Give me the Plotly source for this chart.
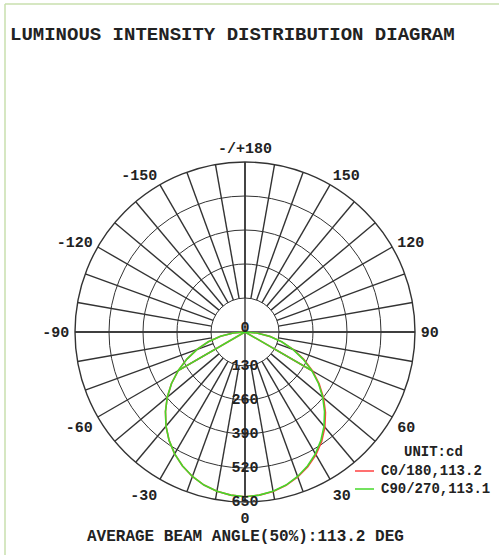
import plotly.graph_objects as go

# ---- data -------------------------------------------------------------
TITLE = "LUMINOUS INTENSITY DISTRIBUTION DIAGRAM"
FOOTER = "AVERAGE BEAM ANGLE(50%):113.2 DEG"
UNIT_LABEL = "UNIT:cd"

SERIES_NAMES = ["C0/180", "C90/270"]
BEAM_ANGLES = [113.2, 113.1]
SERIES_COLORS = ["#ff4040", "#46d82a"]

# gamma angles (deg) of the measured intensities
GAMMA = list(range(-90, 91, 5))

# intensities (cd) per plane, gamma -90 .. 90
C0_180 = [0, 45, 95, 145, 195, 245, 295, 343, 388, 430, 470, 506, 538,
          565, 588, 606, 618, 626, 630, 626, 619, 607, 590, 568, 542,
          511, 475, 435, 392, 346, 298, 248, 197, 146, 96, 46, 0]
C90_270 = [0, 45, 95, 145, 195, 245, 295, 343, 388, 430, 470, 506, 538,
           565, 588, 606, 618, 626, 630, 626, 618, 606, 588, 565, 538,
           506, 470, 430, 388, 343, 295, 245, 195, 145, 95, 45, 0]

# cut-off chords from the 60 deg samples back to the centre
CUT_GAMMA = [60, 90]

RING_VALUES = [130, 260, 390, 520, 650]
R_MAX = 650
SPOKE_STEP = 10
ANGLE_TICKS = [0, 30, 60, 90, 120, 150, 180, 210, 240, 270, 300, 330]
ANGLE_LABELS = ["0", "30", "60", "90", "120", "150", "-/+180",
                "-150", "-120", "-90", "-60", "-30"]

# ---- styling ----------------------------------------------------------
W, H = 499, 555
FONT = "Liberation Mono"
GRID = "#333333"
BORDER = "#c9dfae"


def px(x):
    return x / W


def py(y):
    return 1 - y / H


def plane_path(values):
    lookup = dict(zip(GAMMA, values))
    theta = list(GAMMA)
    r = list(values)
    for sign in (-1, 1):
        theta += [None] + [sign * g for g in CUT_GAMMA]
        r += [None] + [lookup[sign * g] for g in CUT_GAMMA]
    return theta, r


fig = go.Figure()

# spokes every 10 deg between the first ring and the outer ring
sp_theta, sp_r = [], []
for a in range(0, 360, SPOKE_STEP):
    sp_theta += [a, a, None]
    sp_r += [RING_VALUES[0], R_MAX, None]
# main axes through the centre
for a in (0, 90):
    sp_theta += [a, a, a + 180, None]
    sp_r += [R_MAX, 0, R_MAX, None]

fig.add_trace(go.Scatterpolar(
    theta=sp_theta, r=sp_r, mode="lines",
    line=dict(color=GRID, width=1.4), hoverinfo="skip", showlegend=False))

# intensity curves (red plane first, green on top)
for name, vals, color in zip(SERIES_NAMES, [C0_180, C90_270], SERIES_COLORS):
    th, rr = plane_path(vals)
    fig.add_trace(go.Scatterpolar(
        theta=th, r=rr, mode="lines", name=name,
        line=dict(color=color, width=1.6), showlegend=False))

# ring value labels along the 0 deg spoke, plus the centre zero
fig.add_trace(go.Scatterpolar(
    theta=[0] * len(RING_VALUES) + [180],
    r=RING_VALUES + [16],
    text=[str(v) for v in RING_VALUES] + ["0"],
    mode="text", textposition="middle center",
    textfont=dict(family=FONT, size=15, color="#222", weight="bold"),
    hoverinfo="skip", showlegend=False))

cx, cy, rad = 245, 332, 170
fig.update_layout(
    width=W, height=H,
    margin=dict(l=0, r=0, t=0, b=0),
    paper_bgcolor="white",
    showlegend=False,
    polar=dict(
        domain=dict(x=[px(cx - rad), px(cx + rad)],
                    y=[py(cy + rad), py(cy - rad)]),
        bgcolor="white",
        radialaxis=dict(range=[0, R_MAX], tickvals=RING_VALUES,
                        showticklabels=False, showline=False, ticks="",
                        gridcolor=GRID, gridwidth=1.4),
        angularaxis=dict(rotation=270, direction="counterclockwise",
                         tickmode="array", tickvals=ANGLE_TICKS,
                         ticktext=ANGLE_LABELS, showgrid=False,
                         showline=True, linecolor=GRID, linewidth=1.4,
                         ticks="outside", ticklen=2,
                         tickcolor="rgba(0,0,0,0)",
                         tickfont=dict(family=FONT, size=15, color="#222",
                                       weight="bold")),
    ),
)

annotations = [
    dict(text=TITLE, x=px(8), y=py(35), xanchor="left", yanchor="middle",
         font=dict(family=FONT, size=19, color="#222", weight="bold")),
    dict(text=FOOTER, x=px(245), y=py(537), xanchor="center",
         yanchor="middle",
         font=dict(family=FONT, size=16, color="#222", weight="bold")),
    dict(text=UNIT_LABEL, x=px(402), y=py(452), xanchor="left",
         yanchor="middle",
         font=dict(family=FONT, size=14, color="#222", weight="bold")),
]
shapes = [
    dict(type="line", xref="paper", yref="paper", x0=px(5), x1=1,
         y0=py(4), y1=py(4), line=dict(color=BORDER, width=1.5)),
    dict(type="line", xref="paper", yref="paper", x0=px(5), x1=px(5),
         y0=py(4), y1=0, line=dict(color=BORDER, width=1.5)),
]
for i, (name, beam, color) in enumerate(zip(SERIES_NAMES, BEAM_ANGLES,
                                            SERIES_COLORS)):
    yy = 471 + 18 * i
    annotations.append(dict(
        text=f"{name},{beam}", x=px(379), y=py(yy), xanchor="left",
        yanchor="middle",
        font=dict(family=FONT, size=14, color="#222", weight="bold")))
    shapes.append(dict(type="line", xref="paper", yref="paper",
                       x0=px(355), x1=px(374), y0=py(yy), y1=py(yy),
                       line=dict(color=color, width=1.5)))

for a in annotations:
    a.update(xref="paper", yref="paper", showarrow=False)

fig.update_layout(annotations=annotations, shapes=shapes)
fig.write_html("out.html")
